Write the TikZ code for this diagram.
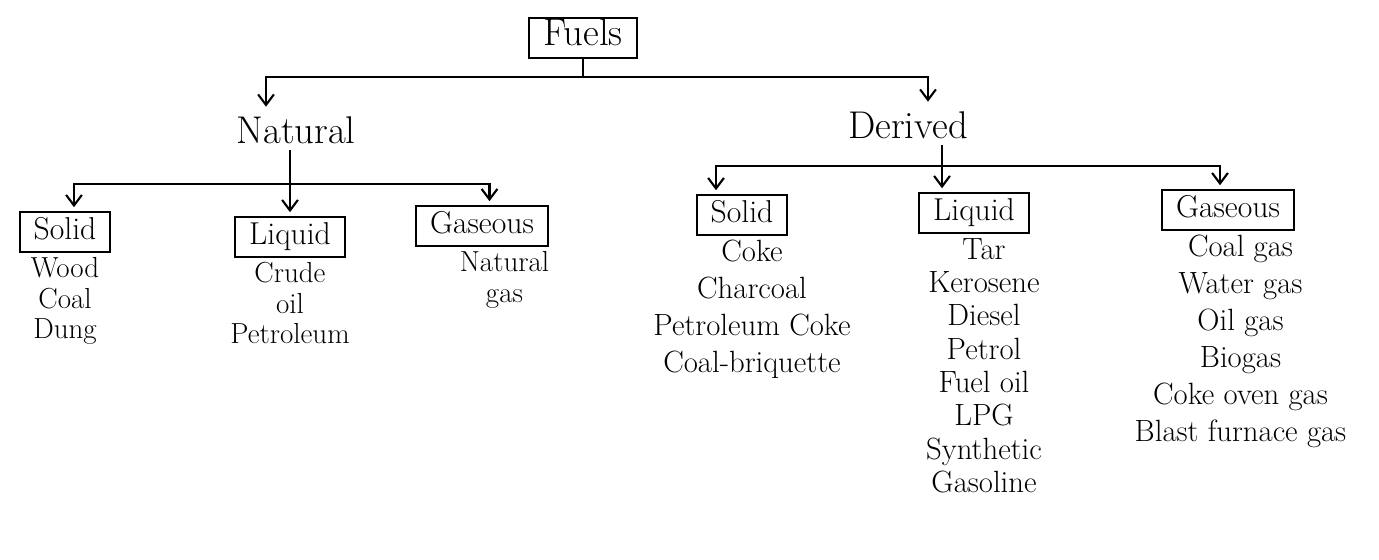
\documentclass[tikz,border=0pt]{standalone}
\usetikzlibrary{arrows.meta,positioning}
\tikzset{
  catbox/.style={draw, line width=1.2pt, inner xsep=8pt, inner ysep=3pt,
    text height=13pt, text depth=4pt, font=\fontsize{18}{20}\selectfont},
  branch/.style={font=\fontsize{22}{24}\selectfont},
  items/.style={align=center, inner sep=2pt, font=\fontsize{17.5}{#1}\selectfont},
  items/.default=19pt,
  tree/.style={line width=1.2pt},
  down/.style={tree, -{Straight Barb[length=6pt,width=9pt]}, shorten >=2pt},
}
\begin{document}
\begin{tikzpicture}[x=0.02cm,y=-0.02cm]
  \useasboundingbox (0,0) rectangle (1379,559);
  % top level
  \node[catbox, font=\fontsize{22}{24}\selectfont] (fuels) at (583,38) {Fuels};
  \node[branch] (natural) at (296,130) {Natural};
  \node[branch] (derived) at (908,125) {Derived};
  \coordinate (topbar) at (583,77);
  \draw[tree] (fuels) -- (topbar);
  \draw[down] (topbar) -| ([xshift=-0.6cm]natural.north);
  \draw[down] (topbar) -| ([xshift=0.4cm]derived.north);
  % natural fuels
  \node[catbox] (nsolid)  at (65,232)  {Solid};
  \node[catbox] (nliquid) at (290,237) {Liquid};
  \node[catbox] (ngas)    at (482,226) {Gaseous};
  \coordinate (natbar) at (290,184);
  \draw[down] (natbar |- natural.south) -- (nliquid);
  \draw[down] (natbar) -| ([xshift=0.18cm]nsolid.north);
  \draw[down] (natbar) -| ([xshift=0.15cm]ngas.north);
  \node[items=17.5pt, below=0pt of nsolid, font=\fontsize{16.5}{17.5}\selectfont]
    (nsolidlist) {Wood\\Coal\\Dung};
  \node[items=17.5pt, below=0pt of nliquid, font=\fontsize{16.5}{17.5}\selectfont]
    (nliquidlist) {Crude\\oil\\Petroleum};
  \node[items=17.5pt, below=0pt of ngas, xshift=0.45cm, font=\fontsize{16.5}{17.5}\selectfont]
    (ngaslist) {Natural\\gas};
  % derived fuels
  \node[catbox] (dsolid)  at (742,215)  {Solid};
  \node[catbox] (dliquid) at (974,213)  {Liquid};
  \node[catbox] (dgas)    at (1228,210) {Gaseous};
  \coordinate (derbar) at (942,166);
  \draw[tree] (derbar |- derived.south) -- (derbar);
  \draw[down] (derbar) -- (derbar |- dliquid.north);
  \draw[down] (derbar) -| ([xshift=-0.52cm]dsolid.north);
  \draw[down] (derbar) -| ([xshift=-0.16cm]dgas.north);
  \node[items=21pt, below=0pt of dsolid, xshift=0.2cm] (dsolidlist)
    {Coke\\Charcoal\\Petroleum Coke\\Coal-briquette};
  \node[items=19pt, below=0pt of dliquid, xshift=0.2cm] (dliquidlist)
    {Tar\\Kerosene\\Diesel\\Petrol\\Fuel oil\\LPG\\Synthetic\\Gasoline};
  \node[items=21pt, below=0pt of dgas, xshift=0.25cm] (dgaslist)
    {Coal gas\\Water gas\\Oil gas\\Biogas\\Coke oven gas\\Blast furnace gas};
\end{tikzpicture}
\end{document}
